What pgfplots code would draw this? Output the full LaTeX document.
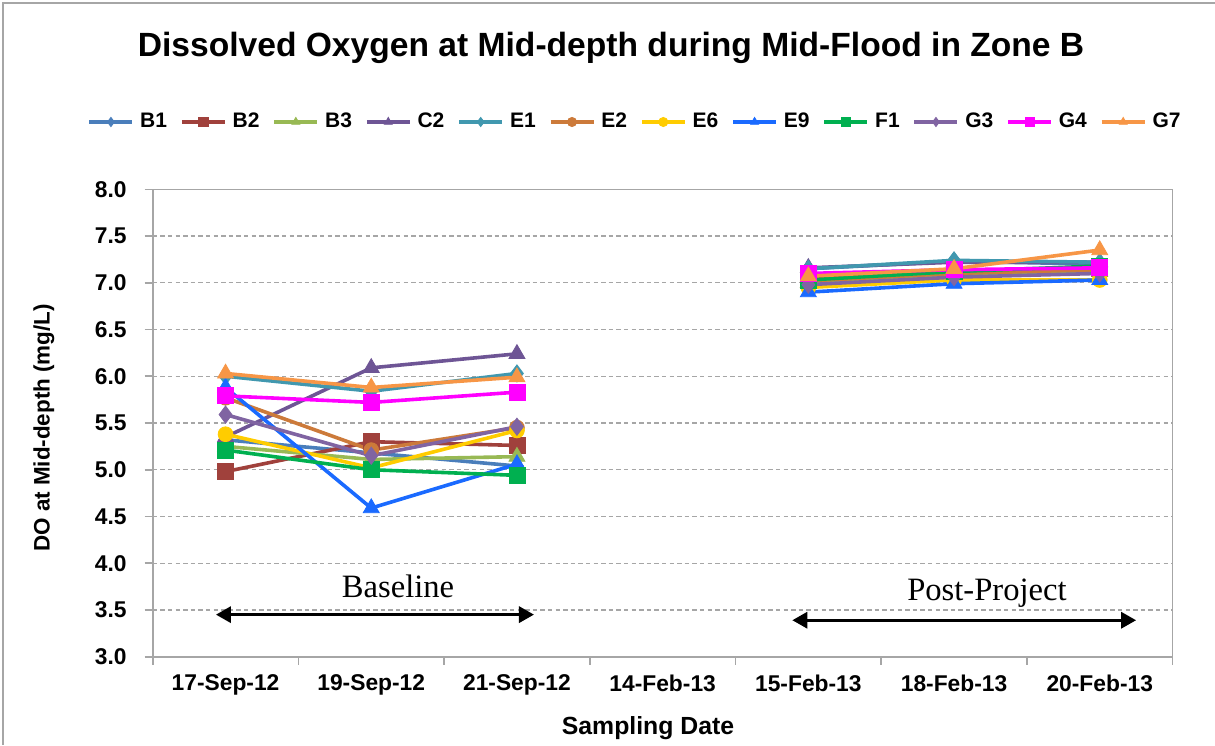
\documentclass[border=0pt]{standalone}
\usepackage{fontspec}
\setmainfont{Liberation Serif}
\setsansfont{Liberation Sans}
\usepackage{pgfplots}
\pgfplotsset{compat=1.18}
\usetikzlibrary{arrows.meta}

\definecolor{cBone}{HTML}{4A7EBB}
\definecolor{cBtwo}{HTML}{A0413C}
\definecolor{cBthree}{HTML}{98B954}
\definecolor{cCtwo}{HTML}{6E5595}
\definecolor{cEone}{HTML}{4198AF}
\definecolor{cEtwo}{HTML}{CC7A3A}
\definecolor{cEsix}{HTML}{FFCC00}
\definecolor{cEnine}{HTML}{1A6AFF}
\definecolor{cFone}{HTML}{00B050}
\definecolor{cGthree}{HTML}{8064A2}
\definecolor{cGfour}{HTML}{FF00FF}
\definecolor{cGseven}{HTML}{F79646}

\pgfplotsset{
  serie/.style={color=#1, solid, line width=1.8pt, mark options={solid, line width=0.4pt, fill=#1}},
  dia/.style={mark=diamond*, mark size=4.3pt},
  sq/.style={mark=square*, mark size=4pt},
  tri/.style={mark=triangle*, mark size=4.6pt},
  circ/.style={mark=*, mark size=3.7pt},
}

\begin{document}
\begin{tikzpicture}[x=1pt,y=1pt]
\useasboundingbox (0,0) rectangle (607.5,372.5);
\draw[gray!70, line width=0.8pt] (1.5,0) -- (1.5,371) -- (607.5,371);
\node[font=\sffamily\bfseries\fontsize{16.8}{19}\selectfont] at (305.5,348.5) {Dissolved Oxygen at Mid-depth during Mid-Flood in Zone B};
\node[font=\sffamily\bfseries\fontsize{11.2}{13}\selectfont, rotate=90] at (22,158.5) {DO at Mid-depth (mg/L)};
\node[font=\sffamily\bfseries\fontsize{12.4}{14}\selectfont] at (324,8.5) {Sampling Date};
\begin{axis}[
  at={(76.35pt,44.15pt)}, anchor=south west,
  scale only axis, width=509.95pt, height=233.7pt,
  xmin=-0.5, xmax=6.5, ymin=3, ymax=8,
  xtick={0,1,2,3,4,5,6},
  xticklabels={17-Sep-12,19-Sep-12,21-Sep-12,14-Feb-13,15-Feb-13,18-Feb-13,20-Feb-13},
  minor xtick={-0.5,0.5,1.5,2.5,3.5,4.5,5.5,6.5},
  ytick={3,3.5,4,4.5,5,5.5,6,6.5,7,7.5,8},
  xtick pos=bottom, ytick pos=left,
  tick align=outside,
  major tick length=4pt, minor tick length=4pt,
  major x tick style={draw=none},
  tick style={gray!70, line width=0.8pt},
  axis line style={gray!70, line width=0.8pt},
  ymajorgrids,
  major grid style={gray!70, line width=0.7pt, dash pattern=on 2.2pt off 1.6pt},
  /pgf/number format/assume math mode=true,
  yticklabel style={/pgf/number format/fixed, /pgf/number format/fixed zerofill, /pgf/number format/precision=1, xshift=-5.5pt},
  xticklabel style={yshift=-1.5pt},
  tick label style={font=\sffamily\bfseries\fontsize{11.4}{13}\selectfont},
  unbounded coords=jump,
  clip=false,
  legend columns=12,
  legend style={at={(axis description cs:0.472,1.144)}, anchor=center, draw=none, fill=none,
    font=\sffamily\bfseries\fontsize{10.5}{12}\selectfont, column sep=3pt,
    nodes={inner xsep=0pt},
    /tikz/every even column/.style={column sep=6.5pt}},
  legend image code/.code={\draw[mark repeat=2, mark phase=2, mark size=2.3pt] plot coordinates {(0pt,0pt) (10.75pt,0pt) (21.5pt,0pt)};},
]
\addplot[serie=cBone, dia] coordinates {(0,5.32) (1,5.18) (2,5.04) (3,nan) (4,7.15) (5,7.23) (6,7.20)};
\addlegendentry{B1}
\addplot[serie=cBtwo, sq] coordinates {(0,4.98) (1,5.30) (2,5.26) (3,nan) (4,7.05) (5,7.12) (6,7.15)};
\addlegendentry{B2}
\addplot[serie=cBthree, tri] coordinates {(0,5.25) (1,5.11) (2,5.14) (3,nan) (4,7.00) (5,7.08) (6,7.12)};
\addlegendentry{B3}
\addplot[serie=cCtwo, tri] coordinates {(0,5.35) (1,6.09) (2,6.24) (3,nan) (4,7.16) (5,7.22) (6,7.22)};
\addlegendentry{C2}
\addplot[serie=cEone, dia] coordinates {(0,6.00) (1,5.84) (2,6.03) (3,nan) (4,7.15) (5,7.24) (6,7.22)};
\addlegendentry{E1}
\addplot[serie=cEtwo, circ] coordinates {(0,5.77) (1,5.21) (2,5.45) (3,nan) (4,7.02) (5,7.10) (6,7.14)};
\addlegendentry{E2}
\addplot[serie=cEsix, circ] coordinates {(0,5.38) (1,5.02) (2,5.42) (3,nan) (4,6.95) (5,7.03) (6,7.03)};
\addlegendentry{E6}
\addplot[serie=cEnine, tri] coordinates {(0,5.88) (1,4.59) (2,5.06) (3,nan) (4,6.90) (5,6.99) (6,7.03)};
\addlegendentry{E9}
\addplot[serie=cFone, sq] coordinates {(0,5.21) (1,5.00) (2,4.94) (3,nan) (4,7.03) (5,7.12) (6,7.18)};
\addlegendentry{F1}
\addplot[serie=cGthree, dia] coordinates {(0,5.59) (1,5.15) (2,5.46) (3,nan) (4,6.98) (5,7.06) (6,7.10)};
\addlegendentry{G3}
\addplot[serie=cGfour, sq] coordinates {(0,5.79) (1,5.72) (2,5.83) (3,nan) (4,7.10) (5,7.14) (6,7.16)};
\addlegendentry{G4}
\addplot[serie=cGseven, tri] coordinates {(0,6.03) (1,5.88) (2,5.99) (3,nan) (4,7.07) (5,7.15) (6,7.35)};
\addlegendentry{G7}
\draw[{Triangle[length=7.5pt,width=8pt]}-{Triangle[length=7.5pt,width=8pt]}, line width=1.6pt] (axis cs:-0.066,3.45) -- (axis cs:2.117,3.45);
\draw[{Triangle[length=7.5pt,width=8pt]}-{Triangle[length=7.5pt,width=8pt]}, line width=1.6pt] (axis cs:3.89,3.39) -- (axis cs:6.25,3.39);
\node[anchor=base, font=\fontsize{16.3}{18}\selectfont] at (axis cs:1.184,3.63) {Baseline};
\node[anchor=base, font=\fontsize{16.3}{18}\selectfont] at (axis cs:5.226,3.60) {Post-Project};
\end{axis}
\end{tikzpicture}
\end{document}
